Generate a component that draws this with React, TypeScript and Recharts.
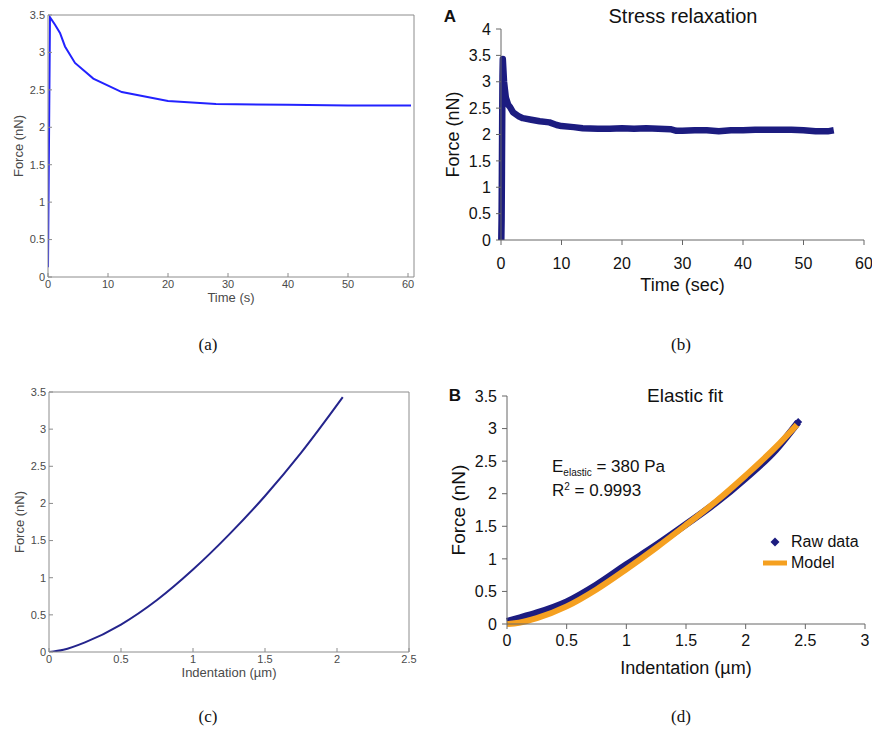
import { Label, Legend, Line, LineChart, XAxis, YAxis } from "recharts";

const SANS = "'Liberation Sans', Arial, sans-serif";
const SERIF = "'Liberation Serif', 'Times New Roman', serif";

// (a) model relaxation curve
const relaxTime = [0, 0.33, 1.17, 2.0, 2.83, 4.5, 7.55, 12.3, 20, 28, 40, 50, 60.5];
const relaxForce = [0.13, 3.47, 3.37, 3.26, 3.08, 2.86, 2.65, 2.47, 2.35, 2.31, 2.3, 2.29, 2.29];

// (b) measured stress relaxation
const stressTime = [0.05, 0.1, 0.15, 0.2, 0.25, 0.3, 0.5, 0.8, 1.2, 1.5, 2, 3, 3.6, 5, 6.4, 8, 9.2, 10, 12, 13.5, 16, 18, 20, 22, 24, 26, 28, 29, 30, 32, 34, 36, 38, 40, 42, 44, 46, 48, 50, 52, 54, 55];
const stressForce = [0, 0.4, 1.3, 2.3, 3.1, 3.43, 3.0, 2.7, 2.56, 2.52, 2.42, 2.34, 2.31, 2.28, 2.25, 2.23, 2.18, 2.16, 2.14, 2.12, 2.11, 2.11, 2.12, 2.11, 2.12, 2.11, 2.1, 2.07, 2.07, 2.08, 2.08, 2.06, 2.08, 2.08, 2.09, 2.09, 2.09, 2.09, 2.08, 2.06, 2.06, 2.08];

// (c) model indentation curve
const indentC = [0, 0.1, 0.25, 0.5, 0.75, 1.0, 1.25, 1.5, 1.75, 2.04];
const forceC = [0, 0.03, 0.13, 0.37, 0.7, 1.11, 1.58, 2.1, 2.68, 3.43];

// (d) elastic fit
const rawIndent = [0, 0.1, 0.25, 0.5, 0.75, 1, 1.25, 1.5, 1.75, 2, 2.25, 2.44];
const rawForce = [0.04, 0.09, 0.17, 0.34, 0.6, 0.91, 1.21, 1.53, 1.86, 2.24, 2.67, 3.1];
const modelIndent = [0, 0.1, 0.25, 0.5, 0.75, 1, 1.25, 1.5, 1.75, 2, 2.25, 2.43];
const modelForce = [0, 0.02, 0.09, 0.27, 0.53, 0.84, 1.17, 1.52, 1.88, 2.28, 2.71, 3.06];

const timeTicksA = [0, 10, 20, 30, 40, 50, 60];
const forceTicks35 = [0, 0.5, 1, 1.5, 2, 2.5, 3, 3.5];
const forceTicks4 = [0, 0.5, 1, 1.5, 2, 2.5, 3, 3.5, 4];
const indentTicksC = [0, 0.5, 1, 1.5, 2, 2.5];
const indentTicksD = [0, 0.5, 1, 1.5, 2, 2.5, 3];

const legendItems = [
  { label: "Raw data", color: "#1c1c80", kind: "diamond" },
  { label: "Model", color: "#f5a020", kind: "line" }
];

const pairs = (xs: number[], ys: number[]) => xs.map((x, i) => ({ x, y: ys[i] }));

const dataA = pairs(relaxTime, relaxForce);
const dataB = pairs(stressTime, stressForce);
const dataC = pairs(indentC, forceC);
const dataRaw = pairs(rawIndent, rawForce);
const dataModel = pairs(modelIndent, modelForce);

const matGray = "#8c8c8c";
const matText = { fill: "#4a4a4a", fontSize: 11, fontFamily: SANS };
const matLabel = { fill: "#4a4a4a", fontSize: 13, fontFamily: SANS };
const MAT_GAP = 3;

// Matlab-style ticks: the tick mark points into the plot, the label sits outside
function MatTickX(props: any) {
  const { x, y, payload } = props;
  const base = y - MAT_GAP;
  return (
    <g>
      <line x1={x} x2={x} y1={base} y2={base - 4} stroke={matGray} />
      <text x={x} y={y} dy="0.71em" textAnchor="middle" {...matText}>
        {payload.value}
      </text>
    </g>
  );
}

function MatTickY(props: any) {
  const { x, y, payload } = props;
  const base = x + MAT_GAP;
  return (
    <g>
      <line x1={base} x2={base + 4} y1={y} y2={y} stroke={matGray} />
      <text x={x} y={y} dy="0.355em" textAnchor="end" {...matText}>
        {payload.value}
      </text>
    </g>
  );
}

function MatlabPanel({
  data,
  xDomain,
  xTicks,
  xLabel,
  color,
  curve,
  height,
  margin
}: {
  data: { x: number; y: number }[];
  xDomain: [number, number];
  xTicks: number[];
  xLabel: string;
  color: string;
  curve: "linear" | "monotone";
  height: number;
  margin: { top: number; right: number; bottom: number; left: number };
}) {
  return (
    <LineChart width={436} height={height} data={data} margin={margin}>
      <XAxis
        dataKey="x"
        type="number"
        domain={xDomain}
        ticks={xTicks}
        interval={0}
        height={30}
        tickSize={0}
        tickLine={false}
        tickMargin={MAT_GAP}
        stroke={matGray}
        tick={<MatTickX />}
        allowDataOverflow
      >
        <Label value={xLabel} position="insideBottom" offset={5} style={matLabel} />
      </XAxis>
      <XAxis
        xAxisId="top"
        orientation="top"
        mirror
        type="number"
        domain={xDomain}
        ticks={xTicks}
        interval={0}
        height={1}
        tickSize={4}
        tick={false}
        stroke={matGray}
        allowDataOverflow
      />
      <YAxis
        type="number"
        domain={[0, 3.5]}
        ticks={forceTicks35}
        interval={0}
        width={40}
        tickSize={0}
        tickLine={false}
        tickMargin={MAT_GAP}
        stroke={matGray}
        tick={<MatTickY />}
        allowDataOverflow
      >
        <Label
          value="Force (nN)"
          angle={-90}
          position="insideLeft"
          offset={10}
          style={{ ...matLabel, textAnchor: "middle" }}
        />
      </YAxis>
      <YAxis
        yAxisId="right"
        orientation="right"
        mirror
        type="number"
        domain={[0, 3.5]}
        ticks={forceTicks35}
        interval={0}
        width={1}
        tickSize={4}
        tick={false}
        stroke={matGray}
        allowDataOverflow
      />
      <Line
        dataKey="y"
        type={curve}
        stroke={color}
        strokeWidth={2}
        dot={false}
        isAnimationActive={false}
      />
    </LineChart>
  );
}

const xlText = { fill: "#111", fontSize: 16, fontFamily: SANS };
const xlLabel = { fill: "#111", fontSize: 18, fontFamily: SANS };

function StressPanel() {
  return (
    <LineChart width={436} height={320} margin={{ top: 29, right: 8, bottom: 20, left: 5 }}>
      <XAxis
        dataKey="x"
        type="number"
        domain={[0, 60]}
        ticks={timeTicksA}
        interval={0}
        height={60}
        tickSize={5}
        tickMargin={13}
        stroke="#666"
        tick={xlText}
      >
        <Label value="Time (sec)" position="insideBottom" offset={9} style={xlLabel} />
      </XAxis>
      <YAxis
        type="number"
        domain={[0, 4]}
        ticks={forceTicks4}
        interval={0}
        width={60}
        tickSize={5}
        tickMargin={5}
        stroke="#666"
        tick={xlText}
      >
        <Label
          value="Force (nN)"
          angle={-90}
          position="insideLeft"
          offset={12}
          style={{ ...xlLabel, textAnchor: "middle" }}
        />
      </YAxis>
      <Line
        data={dataB}
        dataKey="y"
        type="linear"
        stroke="#1c1c80"
        strokeWidth={6.5}
        strokeLinejoin="round"
        dot={false}
        isAnimationActive={false}
      />
    </LineChart>
  );
}

function renderLegend() {
  return (
    <div style={{ fontFamily: SANS, fontSize: 16, color: "#111", lineHeight: "21px" }}>
      {legendItems.map((item) => (
        <div key={item.label} style={{ display: "flex", alignItems: "center" }}>
          <svg width={24} height={12}>
            {item.kind === "diamond" ? (
              <path d="M12 1.5 L16.5 6 L12 10.5 L7.5 6 Z" fill={item.color} />
            ) : (
              <line x1={0} x2={24} y1={6} y2={6} stroke={item.color} strokeWidth={5} />
            )}
          </svg>
          <span style={{ marginLeft: 4 }}>{item.label}</span>
        </div>
      ))}
    </div>
  );
}

function EndDiamond(props: any) {
  const { cx, cy, index } = props;
  if (index !== rawIndent.length - 1) return <g key={`d${index}`} />;
  return <path key={`d${index}`} d={`M${cx} ${cy - 4} L${cx + 4} ${cy} L${cx} ${cy + 4} L${cx - 4} ${cy} Z`} fill="#1c1c80" />;
}

function ElasticPanel() {
  return (
    <LineChart width={436} height={330} margin={{ top: 26, right: 7, bottom: 16, left: 6 }}>
      <XAxis
        dataKey="x"
        type="number"
        domain={[0, 3]}
        ticks={indentTicksD}
        interval={0}
        height={60}
        tickSize={5}
        tickMargin={6}
        stroke="#666"
        tick={xlText}
      >
        <Label value="Indentation (µm)" position="insideBottom" offset={10} style={xlLabel} />
      </XAxis>
      <YAxis
        type="number"
        domain={[0, 3.5]}
        ticks={forceTicks35}
        interval={0}
        width={65}
        tickSize={5}
        tickMargin={5}
        stroke="#666"
        tick={xlText}
      >
        <Label
          value="Force (nN)"
          angle={-90}
          position="insideLeft"
          offset={16}
          style={{ ...xlLabel, fontSize: 19, textAnchor: "middle" }}
        />
      </YAxis>
      <Legend
        content={renderLegend}
        layout="horizontal"
        verticalAlign="middle"
        align="center"
        wrapperStyle={{ left: 327, top: 161, width: 110 }}
      />
      <Line
        data={dataRaw}
        dataKey="y"
        name="Raw data"
        type="monotone"
        stroke="#1c1c80"
        strokeWidth={7}
        dot={<EndDiamond />}
        isAnimationActive={false}
      />
      <Line
        data={dataModel}
        dataKey="y"
        name="Model"
        type="monotone"
        stroke="#f5a020"
        strokeWidth={6}
        dot={false}
        isAnimationActive={false}
      />
    </LineChart>
  );
}

const abs = (left: number, top: number): React.CSSProperties => ({ position: "absolute", left, top });

function Caption({ text, x, y }: { text: string; x: number; y: number }) {
  return (
    <div
      style={{
        ...abs(x, y),
        transform: "translate(-50%, -50%)",
        fontFamily: SERIF,
        fontSize: 17,
        color: "#111",
        whiteSpace: "nowrap"
      }}
    >
      {text}
    </div>
  );
}

function Heading({ text, x, y, size, bold }: { text: string; x: number; y: number; size: number; bold?: boolean }) {
  return (
    <div
      style={{
        ...abs(x, y),
        transform: "translate(-50%, -50%)",
        fontFamily: SANS,
        fontSize: size,
        fontWeight: bold ? 700 : 400,
        color: "#111",
        whiteSpace: "nowrap",
        lineHeight: 1
      }}
    >
      {text}
    </div>
  );
}

export default function App() {
  return (
    <div style={{ position: "absolute", left: 0, top: 0, width: 872, height: 733, background: "#fff", overflow: "hidden" }}>
      <div style={abs(0, 0)}>
        <MatlabPanel
          data={dataA}
          xDomain={[0, 61]}
          xTicks={timeTicksA}
          xLabel="Time (s)"
          color="#2222ff"
          curve="linear"
          height={320}
          margin={{ top: 15, right: 22, bottom: 13, left: 8 }}
        />
      </div>
      <div style={abs(436, 0)}>
        <StressPanel />
      </div>
      <div style={abs(0, 370)}>
        <MatlabPanel
          data={dataC}
          xDomain={[0, 2.5]}
          xTicks={indentTicksC}
          xLabel="Indentation (µm)"
          color="#24248c"
          curve="monotone"
          height={330}
          margin={{ top: 22, right: 27, bottom: 18, left: 9 }}
        />
      </div>
      <div style={abs(436, 370)}>
        <ElasticPanel />
      </div>

      <Heading text="A" x={450} y={16} size={17} bold />
      <Heading text="Stress relaxation" x={683} y={16} size={20} />
      <Heading text="B" x={455} y={395} size={17} bold />
      <Heading text="Elastic fit" x={685} y={395} size={19} />

      <div style={{ ...abs(552, 457), fontFamily: SANS, fontSize: 17, color: "#111", lineHeight: "20px", whiteSpace: "nowrap" }}>
        E<sub style={{ fontSize: 10, verticalAlign: "-4px" }}>elastic</sub> = 380 Pa
      </div>
      <div style={{ ...abs(552, 477), fontFamily: SANS, fontSize: 17, color: "#111", lineHeight: "20px", whiteSpace: "nowrap" }}>
        R<sup style={{ fontSize: 10, verticalAlign: "6px" }}>2</sup> = 0.9993
      </div>

      <Caption text="(a)" x={208} y={345} />
      <Caption text="(b)" x={681} y={345} />
      <Caption text="(c)" x={208} y={717} />
      <Caption text="(d)" x={681} y={717} />
    </div>
  );
}
